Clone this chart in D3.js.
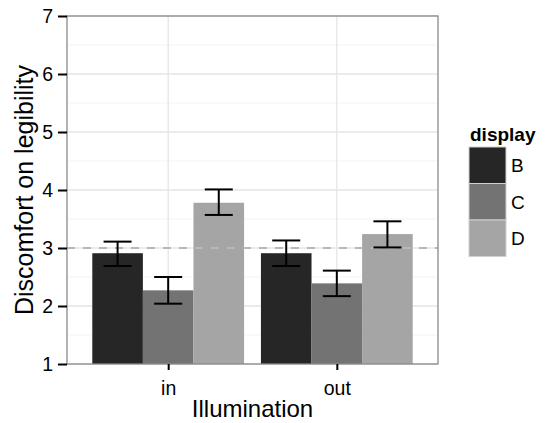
<!DOCTYPE html>
<html>
<head>
<meta charset="utf-8">
<script src="https://cdn.jsdelivr.net/npm/d3@7"></script>
<style>
  body { margin: 0; background: #fff; }
  text { font-family: "Liberation Sans", Arial, sans-serif; }
</style>
</head>
<body>
<svg id="chart" width="545" height="423"></svg>
<script>
// data
const illumination = ["in", "out"];
const displays = ["B", "C", "D"];
const means = [
  [2.91, 2.27, 3.78],  // in
  [2.91, 2.39, 3.24]   // out
];
const lower = [
  [2.69, 2.04, 3.57],
  [2.69, 2.17, 3.01]
];
const upper = [
  [3.11, 2.50, 4.01],
  [3.13, 2.61, 3.46]
];
const yTicks = [1, 2, 3, 4, 5, 6, 7];
const yMinor = [1.5, 2.5, 3.5, 4.5, 5.5, 6.5];
const refLine = 3;
const fills = ["#262626", "#737373", "#a5a5a5"];

const svg = d3.select("#chart");
const margin = {left: 67, right: 107, top: 16, bottom: 59};
const pw = 545 - margin.left - margin.right;
const ph = 423 - margin.top - margin.bottom;

const g = svg.append("g").attr("transform", `translate(${margin.left},${margin.top})`);

// ggplot-like discrete expansion: 0.6 units each side
const xCat = d3.scaleLinear().domain([0.4, 2.6]).range([0, pw]);
const y = d3.scaleLinear().domain([1, 7]).range([ph, 0]);
const barW = 0.3;

// grid
g.selectAll(".minor").data(yMinor).enter().append("line")
  .attr("x1", 0).attr("x2", pw)
  .attr("y1", d => y(d)).attr("y2", d => y(d))
  .attr("stroke", "#f7f7f7").attr("stroke-width", 1.5);
g.selectAll(".major").data(yTicks).enter().append("line")
  .attr("x1", 0).attr("x2", pw)
  .attr("y1", d => y(d)).attr("y2", d => y(d))
  .attr("stroke", "#e5e5e5").attr("stroke-width", 1.3);
g.selectAll(".vmajor").data(illumination).enter().append("line")
  .attr("x1", (d, i) => xCat(i + 1)).attr("x2", (d, i) => xCat(i + 1))
  .attr("y1", 0).attr("y2", ph)
  .attr("stroke", "#e5e5e5").attr("stroke-width", 1.3);

// bars
const rows = [];
illumination.forEach((il, i) => {
  displays.forEach((ds, j) => {
    rows.push({il, ds, i, j, m: means[i][j], lo: lower[i][j], hi: upper[i][j]});
  });
});
const cx = d => xCat(d.i + 1 + (d.j - 1) * barW);

g.selectAll(".bar").data(rows).enter().append("rect")
  .attr("x", d => xCat(d.i + 1 + (d.j - 1) * barW - barW / 2))
  .attr("width", xCat(barW) - xCat(0))
  .attr("y", d => y(d.m))
  .attr("height", d => y(1) - y(d.m))
  .attr("fill", d => fills[d.j]);

// reference line
g.append("line")
  .attr("x1", 0).attr("x2", pw)
  .attr("y1", y(refLine)).attr("y2", y(refLine))
  .attr("stroke", "#b8b8b8").attr("stroke-width", 2)
  .attr("stroke-dasharray", "8,8");

// error bars
const ew = 14;
const eb = g.selectAll(".eb").data(rows).enter().append("g").attr("stroke", "#000").attr("stroke-width", 2);
eb.append("line").attr("x1", cx).attr("x2", cx).attr("y1", d => y(d.hi)).attr("y2", d => y(d.lo));
eb.append("line").attr("x1", d => cx(d) - ew).attr("x2", d => cx(d) + ew).attr("y1", d => y(d.hi)).attr("y2", d => y(d.hi));
eb.append("line").attr("x1", d => cx(d) - ew).attr("x2", d => cx(d) + ew).attr("y1", d => y(d.lo)).attr("y2", d => y(d.lo));

// panel border
g.append("rect").attr("x", 0).attr("y", 0).attr("width", pw).attr("height", ph)
  .attr("fill", "none").attr("stroke", "#8a8a8a").attr("stroke-width", 1.3);

// y axis
const yAxis = g.append("g").call(d3.axisLeft(y).tickValues(yTicks).tickSize(9).tickPadding(5).tickFormat(d3.format("d")));
yAxis.attr("font-size", null).attr("font-family", null);
yAxis.select(".domain").remove();
yAxis.selectAll(".tick line").attr("stroke", "#000").attr("stroke-width", 2);
yAxis.selectAll(".tick text").style("font-size", "19.5px").attr("fill", "#000");

// x axis
const xAxis = g.append("g").attr("transform", `translate(0,${ph})`)
  .call(d3.axisBottom(xCat).tickValues([1, 2]).tickSize(6).tickPadding(0).tickFormat((d, i) => illumination[i]));
xAxis.attr("font-size", null).attr("font-family", null);
xAxis.select(".domain").remove();
xAxis.selectAll(".tick line").attr("stroke", "#000").attr("stroke-width", 2);
xAxis.selectAll(".tick text").attr("dy", null).attr("y", 31)
  .style("font-size", "19.5px").attr("fill", "#000");

// axis titles
svg.append("text").attr("x", margin.left + pw / 2).attr("y", 417)
  .attr("text-anchor", "middle").style("font-size", "24px").text("Illumination");
svg.append("text").attr("transform", `translate(33,${margin.top + ph / 2}) rotate(-90)`)
  .attr("text-anchor", "middle").style("font-size", "25px").text("Discomfort on legibility");

// legend
const lg = svg.append("g").attr("transform", "translate(469,147)");
lg.append("text").attr("x", 1).attr("y", -6).style("font-size", "19px").attr("font-weight", "bold").text("display");
const keyH = 36.5, keyW = 37;
displays.forEach((ds, j) => {
  lg.append("rect").attr("x", 0).attr("y", j * keyH).attr("width", keyW).attr("height", keyH)
    .attr("fill", fills[j]).attr("stroke", "#d0d0d0").attr("stroke-width", 1);
  lg.append("text").attr("x", keyW + 5).attr("y", j * keyH + keyH / 2 + 7)
    .style("font-size", "19px").text(ds);
});
</script>
</body>
</html>
